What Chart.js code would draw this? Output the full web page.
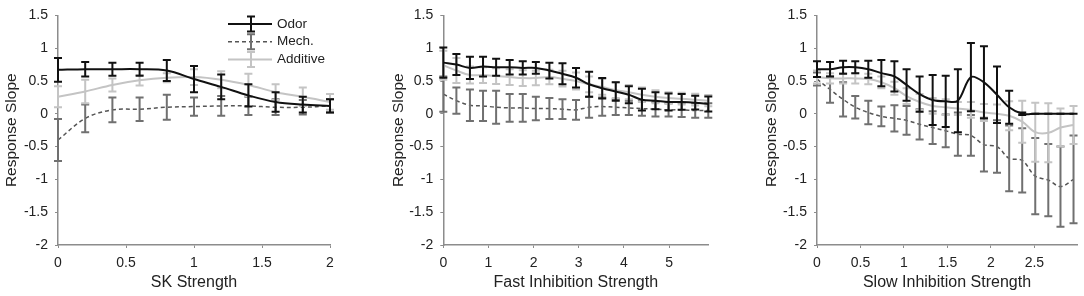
<!DOCTYPE html>
<html>
<head>
<meta charset="utf-8">
<script src="https://cdn.jsdelivr.net/npm/chart.js@4.4.1/dist/chart.umd.min.js"></script>
<style>
  html, body { margin: 0; padding: 0; background: #fff; }
  #wrap { position: relative; width: 1084px; height: 296px; }
  .panel { position: absolute; top: 0; height: 296px; }
</style>
</head>
<body>
<div id="wrap">
  <div class="panel" style="left:0;width:361px"><canvas id="skChart" width="361" height="296"></canvas></div>
  <div class="panel" style="left:361px;width:361px"><canvas id="fastChart" width="361" height="296"></canvas></div>
  <div class="panel" style="left:722px;width:362px"><canvas id="slowChart" width="362" height="296"></canvas></div>
</div>
<script>
// --- SK strength panel
const skX       = [0, 0.2, 0.4, 0.6, 0.8, 1, 1.2, 1.4, 1.6, 1.8, 2];
const skOdor    = [0.67, 0.68, 0.68, 0.68, 0.66, 0.53, 0.41, 0.28, 0.18, 0.14, 0.12];
const skOdorErr = [0.18, 0.11, 0.1, 0.1, 0.16, 0.2, 0.19, 0.17, 0.15, 0.12, 0.1];
const skMech    = [-0.4, -0.07, 0.06, 0.07, 0.1, 0.11, 0.12, 0.12, 0.1, 0.1, 0.12];
const skMechErr = [0.32, 0.21, 0.19, 0.18, 0.19, 0.14, 0.15, 0.14, 0.12, 0.11, 0.1];
const skAdd     = [0.26, 0.34, 0.44, 0.51, 0.55, 0.56, 0.52, 0.44, 0.33, 0.26, 0.18];
const skAddErr  = [0.16, 0.18, 0.1, 0.08, 0.07, 0.12, 0.13, 0.17, 0.12, 0.14, 0.12];

// --- Fast inhibition panel
const fastX       = [0, 0.29, 0.59, 0.88, 1.17, 1.47, 1.76, 2.05, 2.35, 2.64, 2.94, 3.23, 3.52, 3.82, 4.11, 4.40, 4.70, 4.99, 5.28, 5.58, 5.87];
const fastOdor    = [0.78, 0.75, 0.7, 0.72, 0.71, 0.71, 0.7, 0.7, 0.66, 0.61, 0.55, 0.45, 0.39, 0.34, 0.29, 0.215, 0.2, 0.18, 0.18, 0.17, 0.15];
const fastOdorErr = [0.23, 0.16, 0.17, 0.15, 0.13, 0.11, 0.1, 0.09, 0.12, 0.16, 0.15, 0.19, 0.155, 0.14, 0.13, 0.165, 0.13, 0.13, 0.12, 0.105, 0.115];
const fastMech    = [0.3, 0.2, 0.13, 0.12, 0.1, 0.09, 0.09, 0.08, 0.08, 0.07, 0.06, 0.1, 0.11, 0.1, 0.09, 0.08, 0.07, 0.06, 0.06, 0.05, 0.05];
const fastMechErr = [0.27, 0.2, 0.24, 0.23, 0.25, 0.21, 0.21, 0.18, 0.16, 0.15, 0.15, 0.16, 0.14, 0.12, 0.11, 0.11, 0.11, 0.1, 0.11, 0.11, 0.11];
const fastAdd     = [0.74, 0.66, 0.59, 0.59, 0.575, 0.56, 0.545, 0.545, 0.56, 0.535, 0.5, 0.45, 0.41, 0.36, 0.33, 0.29, 0.26, 0.24, 0.23, 0.215, 0.2];
const fastAddErr  = [0.22, 0.19, 0.13, 0.12, 0.12, 0.12, 0.12, 0.11, 0.11, 0.12, 0.13, 0.12, 0.12, 0.12, 0.11, 0.11, 0.1, 0.09, 0.09, 0.09, 0.085];

// --- Slow inhibition panel
const slowX       = [0, 0.15, 0.3, 0.44, 0.59, 0.74, 0.89, 1.03, 1.18, 1.33, 1.48, 1.62, 1.77, 1.92, 2.07, 2.21, 2.36, 2.51, 2.66, 2.8, 2.95];
const slowOdor    = [0.68, 0.68, 0.71, 0.71, 0.68, 0.62, 0.57, 0.44, 0.3, 0.21, 0.19, 0.2, 0.56, 0.48, 0.29, 0.1, 0, 0, 0, 0, 0];
const slowOdorErr = [0.12, 0.11, 0.1, 0.09, 0.13, 0.2, 0.23, 0.24, 0.27, 0.38, 0.39, 0.48, 0.52, 0.55, 0.43, 0.25, 0.02, 0, 0, 0, 0];
const slowMech    = [0.53, 0.37, 0.22, 0.1, 0.02, -0.04, -0.07, -0.1, -0.16, -0.21, -0.26, -0.31, -0.33, -0.47, -0.5, -0.68, -0.71, -0.95, -1.01, -1.11, -1.0];
const slowMechErr = [0.1, 0.2, 0.26, 0.17, 0.18, 0.15, 0.2, 0.22, 0.23, 0.25, 0.25, 0.33, 0.31, 0.41, 0.4, 0.5, 0.49, 0.58, 0.55, 0.61, 0.67];
const slowAdd     = [0.56, 0.54, 0.54, 0.54, 0.53, 0.48, 0.39, 0.27, 0.18, 0.12, 0.1, 0.08, 0.06, 0.02, 0.0, -0.03, -0.12, -0.28, -0.29, -0.21, -0.17];
const slowAddErr  = [0.1, 0.08, 0.08, 0.08, 0.08, 0.09, 0.1, 0.12, 0.12, 0.12, 0.12, 0.1, 0.12, 0.13, 0.14, 0.22, 0.32, 0.45, 0.45, 0.29, 0.29];

const yTicksMin = -2, yTicksMax = 1.5, yStep = 0.5;
const seriesNames = ['Odor', 'Mech.', 'Additive'];

const ODOR = '#111111', MECH_LINE = '#555555', MECH_BAR = '#707070', ADD = '#c4c4c4';
const AXIS = '#8c8c8c';

Chart.defaults.font.family = "'Liberation Sans', Arial, sans-serif";
Chart.defaults.color = '#222';

const toPts = (xs, ys) => xs.map((x, i) => ({ x: x, y: ys[i] }));
// plain labels: "1" not "1.0"
const plainTick = v => String(Number(v.toFixed(2)));

// error bars drawn per dataset so they stack in the same order as lines
const errorBars = {
    id: 'errorBars',
    afterDatasetDraw(chart, args) {
        const ds = chart.data.datasets[args.index];
        if (!ds.errors) return;
        const ctx = chart.ctx;
        const yScale = chart.scales.y;
        ctx.save();
        ctx.strokeStyle = ds.barColor;
        ctx.lineWidth = 2;
        ctx.setLineDash([]);
        args.meta.data.forEach((pt, i) => {
            const e = ds.errors[i];
            const v = ds.data[i].y;
            const top = yScale.getPixelForValue(v + e);
            const bot = yScale.getPixelForValue(v - e);
            ctx.beginPath();
            ctx.moveTo(pt.x, top); ctx.lineTo(pt.x, bot);
            ctx.moveTo(pt.x - 4, top); ctx.lineTo(pt.x + 4, top);
            ctx.moveTo(pt.x - 4, bot); ctx.lineTo(pt.x + 4, bot);
            ctx.stroke();
        });
        ctx.restore();
    }
};

// legend with error bar glyphs, only on the first panel
const errLegend = {
    id: 'errLegend',
    afterDraw(chart) {
        if (!chart.options.plugins.errLegend.show) return;
        const ctx = chart.ctx;
        const styles = [
            { line: ODOR, bar: ODOR, dash: [], w: 2 },
            { line: MECH_LINE, bar: MECH_BAR, dash: [4, 3], w: 1.5 },
            { line: ADD, bar: ADD, dash: [], w: 2 }
        ];
        ctx.save();
        ctx.font = "13.5px 'Liberation Sans', Arial, sans-serif";
        ctx.textBaseline = 'middle';
        styles.forEach((s, i) => {
            const y = 24 + i * 17.7;
            ctx.strokeStyle = s.line;
            ctx.lineWidth = s.w;
            ctx.setLineDash(s.dash);
            ctx.beginPath(); ctx.moveTo(228, y); ctx.lineTo(272, y); ctx.stroke();
            ctx.setLineDash([]);
            ctx.strokeStyle = s.bar;
            ctx.lineWidth = 2;
            ctx.beginPath();
            ctx.moveTo(251, y - 7.5); ctx.lineTo(251, y + 7.5);
            ctx.moveTo(247, y - 7.5); ctx.lineTo(255, y - 7.5);
            ctx.moveTo(247, y + 7.5); ctx.lineTo(255, y + 7.5);
            ctx.stroke();
            ctx.fillStyle = '#222';
            ctx.fillText(seriesNames[i], 277, y);
        });
        ctx.restore();
    }
};

function makePanel(id, p) {
    const ctx = document.getElementById(id).getContext('2d');
    return new Chart(ctx, {
        type: 'line',
        data: {
            datasets: [
                { label: seriesNames[0], data: toPts(p.x, p.odor), errors: p.odorErr, barColor: ODOR,
                  borderColor: ODOR, borderWidth: 2, order: 0 },
                { label: seriesNames[1], data: toPts(p.x, p.mech), errors: p.mechErr, barColor: MECH_BAR,
                  borderColor: MECH_LINE, borderWidth: 1.5, borderDash: [4, 3], order: 2 },
                { label: seriesNames[2], data: toPts(p.x, p.add), errors: p.addErr, barColor: ADD,
                  borderColor: ADD, borderWidth: 2, order: 1 }
            ]
        },
        options: {
            responsive: false,
            animation: false,
            devicePixelRatio: 1,
            elements: { point: { radius: 0 }, line: { tension: 0.35, fill: false } },
            layout: { padding: { left: p.padLeft, right: p.padRight, top: 8.3, bottom: 0 } },
            plugins: { legend: { display: false }, tooltip: { enabled: false }, errLegend: { show: !!p.legend } },
            scales: {
                x: {
                    type: 'linear', min: 0, max: p.xMax,
                    border: { display: true, color: AXIS, width: 1.5 },
                    grid: { display: true, drawOnChartArea: false, drawTicks: true, tickLength: 3, color: AXIS },
                    ticks: { stepSize: p.xStep, includeBounds: false, padding: 7, font: { size: 14 }, color: '#222',
                             maxRotation: 0, callback: plainTick },
                    title: { display: true, text: p.xTitle, font: { size: 16 }, color: '#222', padding: { top: 0, bottom: 3.5 } },
                    afterFit: s => { s.height = 51; }
                },
                y: {
                    min: yTicksMin, max: yTicksMax,
                    border: { display: true, color: AXIS, width: 1.5 },
                    grid: { display: true, drawOnChartArea: false, drawTicks: true, tickLength: 3, color: AXIS },
                    ticks: { stepSize: yStep, padding: 7, font: { size: 14 }, color: '#222', callback: plainTick },
                    title: { display: true, text: 'Response Slope', font: { size: 15.5 }, color: '#222', padding: { top: 2.5, bottom: 0 } },
                    afterFit: s => { s.width = p.yWidth; }
                }
            }
        },
        plugins: [errorBars, errLegend]
    });
}

makePanel('skChart', {
    x: skX, odor: skOdor, odorErr: skOdorErr, mech: skMech, mechErr: skMechErr, add: skAdd, addErr: skAddErr,
    xMax: 2, xStep: 0.5, xTitle: 'SK Strength', padLeft: 0, yWidth: 58, padRight: 31, legend: true
});
makePanel('fastChart', {
    x: fastX, odor: fastOdor, odorErr: fastOdorErr, mech: fastMech, mechErr: fastMechErr, add: fastAdd, addErr: fastAddErr,
    xMax: 5.87, xStep: 1, xTitle: 'Fast Inhibition Strength', padLeft: 25.5, yWidth: 56.8, padRight: 13.7
});
makePanel('slowChart', {
    x: slowX, odor: slowOdor, odorErr: slowOdorErr, mech: slowMech, mechErr: slowMechErr, add: slowAdd, addErr: slowAddErr,
    xMax: 2.99, xStep: 0.5, xTitle: 'Slow Inhibition Strength', padLeft: 37.5, yWidth: 57.5, padRight: 7
});
</script>
</body>
</html>
